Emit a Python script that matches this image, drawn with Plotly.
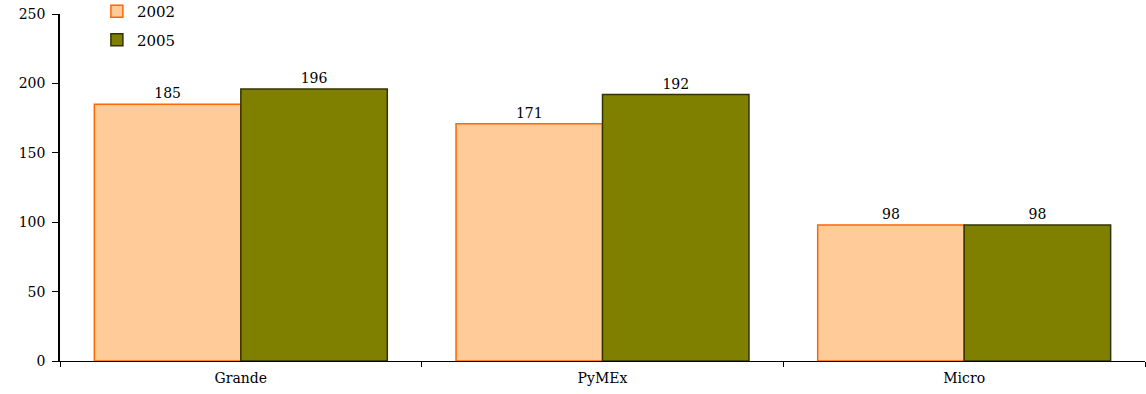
import plotly.graph_objects as go

categories = ["Grande", "PyMEx", "Micro"]
values_2002 = [185, 171, 98]
values_2005 = [196, 192, 98]
series_names = ["2002", "2005"]

font_family = "DejaVu Serif, Liberation Serif, serif"

fig = go.Figure()
fig.add_trace(go.Bar(
    x=categories, y=values_2002, name=series_names[0],
    marker=dict(color="#FFCC99", line=dict(color="#FF6600", width=1.5)),
    text=[str(v) for v in values_2002], textposition="outside",
    textfont=dict(size=14, color="black", family=font_family),
    cliponaxis=False, legendgroup="a",
))
fig.add_trace(go.Bar(
    x=categories, y=values_2005, name=series_names[1],
    marker=dict(color="#808000", line=dict(color="#333300", width=1.5)),
    text=[str(v) for v in values_2005], textposition="outside",
    textfont=dict(size=14, color="black", family=font_family),
    cliponaxis=False, legendgroup="b",
))

fig.update_layout(
    width=1146, height=394,
    margin=dict(l=60, r=1, t=14, b=33, autoexpand=False),
    paper_bgcolor="white", plot_bgcolor="white",
    barmode="group", bargap=0.19, bargroupgap=0,
    font=dict(family=font_family, size=14, color="black"),
    showlegend=True,
    legend=dict(x=0.034, y=1.055, xanchor="left", yanchor="top",
                bgcolor="rgba(0,0,0,0)", font=dict(size=15),
                traceorder="grouped", tracegroupgap=6,
                itemwidth=30),
    xaxis=dict(showline=True, linecolor="black", linewidth=1,
               ticks="outside", tickson="boundaries", ticklen=5,
               tickcolor="black", showgrid=False, zeroline=False,
               ticklabelstandoff=4),
    yaxis=dict(range=[0, 250], dtick=50, showline=True, linecolor="black",
               linewidth=1.5, ticks="outside", ticklen=6, tickcolor="black",
               showgrid=False, zeroline=False, ticklabelstandoff=4),
)

fig.write_html(
    "out.html",
    config={"displayModeBar": False},
    post_script="document.body.style.margin='0';document.body.style.overflow='hidden';",
)
